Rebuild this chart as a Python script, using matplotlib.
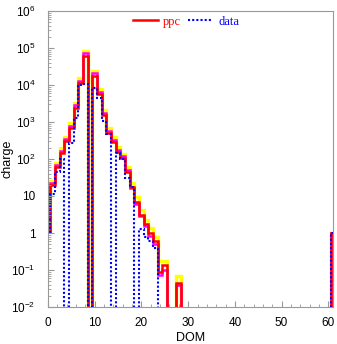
import numpy as np
import matplotlib
matplotlib.use('Agg')
import matplotlib.pyplot as plt
from matplotlib.ticker import LogLocator, MultipleLocator, NullFormatter

# === DADOS (carga por DOM) ===
dom = np.arange(1, 62)
fim = [0] * 32 + [1]          # DOMs 29..60 vazios, DOM 61 = 1

ppc = [20, 60, 145, 300, 700, 2400, 11000, 60000, 0, 17500,
       5700, 1550, 500, 290, 155, 105, 45, 17, 7, 3.1,
       1.7, 1.0, 0.6, 0.09, 0.14, 0, 0, 0.045] + fim
ppc_alto = [25, 80, 200, 400, 950, 3300, 15000, 85000, 0, 24000,
            7800, 2100, 680, 400, 210, 140, 62, 23, 9.5, 4.2,
            2.3, 1.35, 0.8, 0.17, 0.17, 0, 0, 0.07] + fim
ppc_medio = [22, 68, 165, 340, 800, 2800, 13000, 72000, 0, 20500,
             6500, 1800, 580, 330, 175, 118, 50, 16, 6.2, 2.8,
             1.5, 0.85, 0.5, 0.075, 0.10, 0, 0, 0.04] + fim
dados = [11, 45, 100, 0, 270, 1300, 10000, 10500, 0, 8300,
         4400, 1050, 480, 0, 145, 100, 30, 18, 0, 1.3,
         0.8, 0.6, 0.4, 0, 0, 0, 0, 0] + fim

bordas = np.append(dom - 0.5, dom[-1] + 0.5)


def degraus(v):
    # bins vazios ficam abaixo do eixo, como no ROOT
    return np.where(np.array(v, dtype=float) > 0, v, 1e-6)


plt.rcParams['font.family'] = ['Liberation Sans', 'DejaVu Sans']
plt.rcParams['mathtext.fontset'] = 'custom'
plt.rcParams['mathtext.rm'] = 'Liberation Sans'

fig = plt.figure(figsize=(3.37, 3.44), dpi=100)
ax = fig.add_axes([48 / 337, 1 - 307 / 344, 285 / 337, 296 / 344])

ax.stairs(degraus(ppc_alto), bordas, baseline=1, color='#ffff00', lw=2.4)
ax.stairs(degraus(ppc_medio), bordas, baseline=1, color='#ff00ff', lw=1.8)
ax.stairs(degraus(ppc), bordas, baseline=1, color='#ff0000', lw=1.8, label='ppc')
ax.stairs(degraus(dados), bordas, baseline=1, color='#0000ff', lw=1.5,
          linestyle=(0, (1, 1)), label='data')

ax.set_yscale('log')
ax.set_xlim(0, 61)
ax.set_ylim(1e-2, 1e6)

# eixos e ticks no estilo ROOT
cinza = '#999999'
for lado in ax.spines.values():
    lado.set_color(cinza)
    lado.set_linewidth(0.8)
ax.xaxis.set_major_locator(MultipleLocator(10))
ax.xaxis.set_minor_locator(MultipleLocator(2))
ax.yaxis.set_major_locator(LogLocator(base=10, numticks=20))
ax.yaxis.set_minor_locator(LogLocator(base=10, subs=np.arange(2, 10), numticks=20))
ax.yaxis.set_minor_formatter(NullFormatter())
ax.tick_params(which='both', direction='in', color=cinza, labelsize=8.5,
               top=False, right=False)
ax.tick_params(which='major', length=4.5, width=0.8)
ax.tick_params(which='minor', length=2.2, width=0.6)
ax.tick_params(axis='x', pad=7)
ax.tick_params(axis='y', pad=9)

rotulos_y = [r'$\mathregular{10^{%d}}$' % e if e not in (0, 1) else ('1' if e == 0 else '10')
             for e in range(-2, 7)]
ax.set_yticks([10.0 ** e for e in range(-2, 7)])
ax.set_yticklabels(rotulos_y)

ax.set_xlabel('DOM', fontsize=9, va='center')
ax.xaxis.set_label_coords(0.5, (307 - 338) / 296)
ax.set_ylabel('charge', fontsize=9, va='center')
ax.yaxis.set_label_coords((8 - 48) / 285, 0.5)

leg = ax.legend(loc='upper center', bbox_to_anchor=(0.484, 1.022), ncol=2,
                frameon=False, handlelength=2.0, handletextpad=0.45,
                columnspacing=0.5, prop={'family': 'Liberation Serif', 'size': 9})
for texto, cor in zip(leg.get_texts(), ['#ff0000', '#0000ff']):
    texto.set_color(cor)

fig.savefig('out.png', dpi=100)
